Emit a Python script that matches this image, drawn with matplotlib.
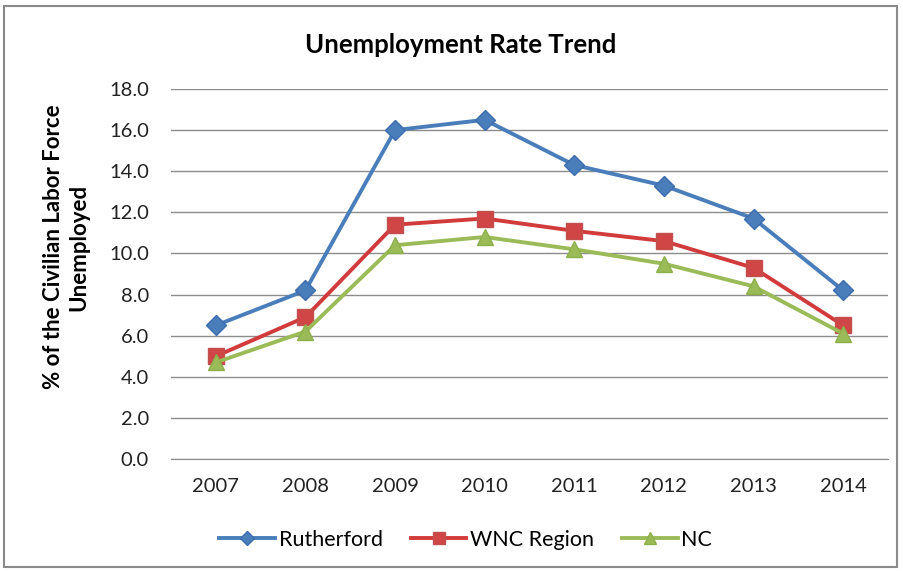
import matplotlib.pyplot as plt
from matplotlib.patches import Rectangle

plt.rcParams['font.family'] = ['Lato', 'DejaVu Sans']

years = ['2007', '2008', '2009', '2010', '2011', '2012', '2013', '2014']
rutherford = [6.5, 8.2, 16.0, 16.5, 14.3, 13.3, 11.7, 8.2]
wnc_region = [5.0, 6.9, 11.4, 11.7, 11.1, 10.6, 9.3, 6.5]
nc = [4.7, 6.2, 10.4, 10.8, 10.2, 9.5, 8.4, 6.1]

fig = plt.figure(figsize=(9.04, 5.71), dpi=100)
ax = fig.add_axes([171 / 904, 1 - 459 / 571, 717 / 904, 370 / 571])

x = list(range(len(years)))
ax.plot(x, rutherford, color='#4A7EBB', lw=2.8, marker='D', ms=10,
        markeredgecolor='#3C6DAE', label='Rutherford')
ax.plot(x, wnc_region, color='#D23B3B', lw=2.8, marker='s', ms=11,
        markeredgecolor='#C0504D', markerfacecolor='#D04545', label='WNC Region')
ax.plot(x, nc, color='#9BBB59', lw=2.8, marker='^', ms=11,
        markeredgecolor='#8DB04A', label='NC')

ax.set_xlim(-0.5, len(years) - 0.5)
ax.set_ylim(0, 18)
ax.set_yticks([i * 2.0 for i in range(10)])
ax.set_yticklabels([f'{i * 2.0:.1f}' for i in range(10)])
ax.set_xticks(x)
ax.set_xticklabels(years)
ax.tick_params(axis='both', length=0, labelsize=14.5, colors='#222222')
ax.tick_params(axis='x', pad=14)
ax.tick_params(axis='y', pad=16)

ax.grid(axis='y', color='#8C8C8C', lw=1.0)
ax.set_axisbelow(True)
for side in ('top', 'right', 'left'):
    ax.spines[side].set_visible(False)
ax.spines['bottom'].set_color('#8C8C8C')

fig.text(0.51, 1 - 45 / 571, 'Unemployment Rate Trend', ha='center', va='center',
         fontsize=18.5, fontweight='bold')
fig.text(66 / 904, 1 - 247 / 571, '% of the Civilian Labor Force\nUnemployed',
         ha='center', va='center', rotation=90, fontsize=16, fontweight='bold',
         linespacing=1.25)

fig.legend(loc='center', bbox_to_anchor=(0.515, 1 - 540 / 571), ncol=3,
           frameon=False, fontsize=15.5, handlelength=2.6, columnspacing=1.3,
           handletextpad=0.15, markerscale=0.75)

fig.patches.append(Rectangle((4 / 904, 4 / 571), 893 / 904, 561 / 571,
                             transform=fig.transFigure, fill=False,
                             edgecolor='#8A8A8A', lw=1.5))

fig.savefig('out.png', dpi=100)
